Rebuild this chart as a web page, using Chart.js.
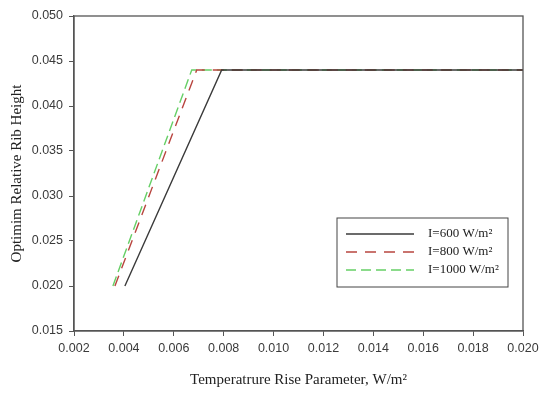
<!DOCTYPE html>
<html lang="en">
<head>
    <meta charset="UTF-8" />
    <title>Optimum relative rib height</title>
    <script src="https://cdn.jsdelivr.net/npm/chart.js"></script>
    <style>
        html, body { margin: 0; padding: 0; background: #fff; }
        #wrap { width: 550px; height: 393px; position: relative; }
    </style>
</head>
<body>
    <div id="wrap"><canvas id="ribChart"></canvas></div>
    <script>
        // series (x = temperature rise parameter, y = rib height)
        const seriesLabels = ['I=600 W/m²', 'I=800 W/m²', 'I=1000 W/m²'];
        const x600 = [0.00404, 0.00792, 0.020];
        const y600 = [0.020, 0.044, 0.044];
        const x800 = [0.00364, 0.00692, 0.020];
        const y800 = [0.020, 0.044, 0.044];
        const x1000 = [0.00356, 0.00672, 0.020];
        const y1000 = [0.020, 0.044, 0.044];
        const xTicks = [0.002, 0.004, 0.006, 0.008, 0.010, 0.012, 0.014, 0.016, 0.018, 0.020];
        const yTicks = [0.015, 0.020, 0.025, 0.030, 0.035, 0.040, 0.045, 0.050];

        const colors = ['#3a3a3a', '#b8453f', '#66cf66'];
        const dashes = [[], [11, 8], [10, 5]];

        function pts(xs, ys) {
            return xs.map((x, i) => ({ x: x, y: ys[i] }));
        }

        const allData = [pts(x600, y600), pts(x800, y800), pts(x1000, y1000)];

        // frame round the plot + boxed legend like the original
        const framePlugin = {
            id: 'frame',
            afterDraw(chart) {
                const ctx = chart.ctx;
                const a = chart.chartArea;
                ctx.save();
                ctx.strokeStyle = '#555';
                ctx.lineWidth = 1.3;
                ctx.strokeRect(a.left, a.top, a.right - a.left, a.bottom - a.top);

                // legend box
                const bx = 337, by = 218, bw = 171, bh = 69;
                ctx.lineWidth = 1;
                ctx.strokeStyle = '#444';
                ctx.strokeRect(bx, by, bw, bh);
                ctx.font = '13px "Liberation Serif", "Times New Roman", serif';
                ctx.textBaseline = 'middle';
                ctx.fillStyle = '#222';
                seriesLabels.forEach((lab, i) => {
                    const yy = by + 16 + i * 18;
                    ctx.strokeStyle = colors[i];
                    ctx.lineWidth = 1.3;
                    ctx.setLineDash(dashes[i]);
                    ctx.beginPath();
                    ctx.moveTo(346, yy);
                    ctx.lineTo(414, yy);
                    ctx.stroke();
                    ctx.setLineDash([]);
                    ctx.fillText(lab, 428, yy);
                });
                ctx.restore();
            }
        };

        new Chart(document.getElementById('ribChart'), {
            type: 'scatter',
            data: {
                datasets: seriesLabels.map((lab, i) => ({
                    label: lab,
                    data: allData[i],
                    showLine: true,
                    borderColor: colors[i],
                    borderWidth: 1.4,
                    borderDash: dashes[i],
                    pointRadius: 0,
                    fill: false,
                    tension: 0
                }))
            },
            options: {
                responsive: true,
                maintainAspectRatio: false,
                animation: false,
                layout: { padding: { left: 4, right: 27, top: 16, bottom: 0 } },
                plugins: {
                    legend: { display: false },
                    tooltip: { enabled: false }
                },
                scales: {
                    x: {
                        type: 'linear',
                        min: 0.002,
                        max: 0.020,
                        afterBuildTicks(scale) {
                            scale.ticks = xTicks.map(v => ({ value: v }));
                        },
                        afterFit(scale) { scale.height = 62; },
                        ticks: {
                            color: '#3a3a3a',
                            font: { family: '"Liberation Sans", Arial, sans-serif', size: 12.5 },
                            padding: 5,
                            maxRotation: 0,
                            callback: v => v.toFixed(3)
                        },
                        grid: { drawOnChartArea: false, tickLength: 5, color: '#555' },
                        border: { color: '#555', width: 1.3 },
                        title: {
                            display: true,
                            text: 'Temperatrure Rise Parameter, W/m²',
                            color: '#222',
                            font: { family: '"Liberation Serif", "Times New Roman", serif', size: 15 },
                            padding: { top: 11 }
                        }
                    },
                    y: {
                        type: 'linear',
                        min: 0.015,
                        max: 0.050,
                        afterBuildTicks(scale) {
                            scale.ticks = yTicks.map(v => ({ value: v }));
                        },
                        afterFit(scale) { scale.width = 70; },
                        ticks: {
                            color: '#3a3a3a',
                            font: { family: '"Liberation Sans", Arial, sans-serif', size: 12.5 },
                            padding: 6,
                            callback: v => v.toFixed(3)
                        },
                        grid: { drawOnChartArea: false, tickLength: 5, color: '#555' },
                        border: { color: '#555', width: 1.3 },
                        title: {
                            display: true,
                            text: 'Optimim Relative Rib Height',
                            color: '#222',
                            font: { family: '"Liberation Serif", "Times New Roman", serif', size: 15 },
                            padding: { bottom: 0 }
                        }
                    }
                }
            },
            plugins: [framePlugin]
        });
    </script>
</body>
</html>
